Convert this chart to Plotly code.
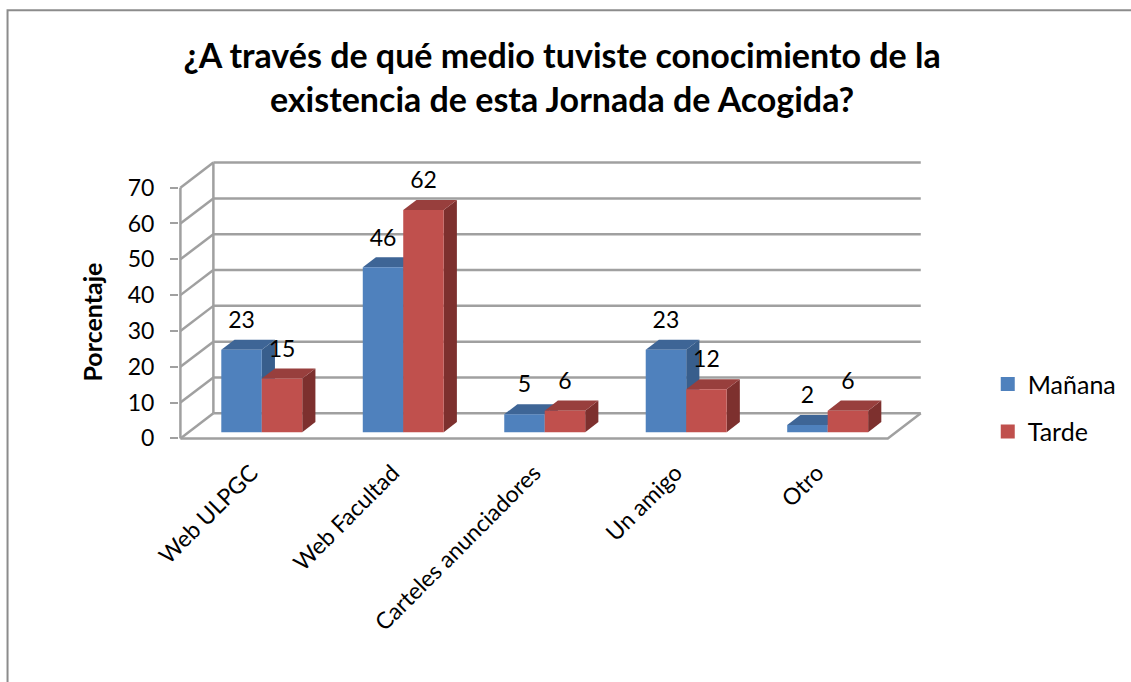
import plotly.graph_objects as go

# ---------------- data ----------------
categories = ["Web ULPGC", "Web Facultad", "Carteles anunciadores", "Un amigo", "Otro"]
manana = [23, 46, 5, 23, 2]
tarde = [15, 62, 6, 12, 6]
series_names = ["Mañana", "Tarde"]
y_ticks = [0, 10, 20, 30, 40, 50, 60, 70]

title_text = "¿A través de qué medio tuviste conocimiento de la<br>existencia de esta Jornada de Acogida?"
y_title = "Porcentaje"

# ---------------- styling / geometry ----------------
W_PX, H_PX = 1131, 682
FONT = "Lato"
X_RANGE = [-0.01, 5.27]
Y_RANGE = [-1, 78]
M_L, M_R, M_T, M_B = 178.6, 204.8, 159.4, 240.4
PLOT_W = W_PX - M_L - M_R
PLOT_H = H_PX - M_T - M_B

DX = 0.233   # depth offset (category units)
DY = 7.0     # depth offset (value units)
F0 = 0.25    # front of bars as fraction of depth
FD = 0.40    # bar depth as fraction of depth
BAR_W = 0.286
PAIR_CENTER = 0.575
LABEL_GAP = 7.7

front_cols = ["#4F81BD", "#C0504D"]
top_cols = ["#3E6596", "#983F3D"]
side_cols = ["#385E8C", "#7D302E"]
grid_col = "#A0A0A0"


def px_to_paper_x(px):
    return (px - M_L) / PLOT_W


def px_to_paper_y(py):
    return (H_PX - M_B - py) / PLOT_H


fig = go.Figure()

# ---------------- walls / gridlines ----------------
n = len(categories)
gx, gy = [], []
top_tick = y_ticks[-1]
for v in y_ticks:
    gx += [DX, n + DX, None, 0, DX, None]
    gy += [v + DY, v + DY, None, v, v + DY, None]
# back wall left edge
gx += [DX, DX, None]
gy += [DY, top_tick + DY, None]
# floor front and right edge
gx += [0, n, n + DX, None]
gy += [0, 0, DY, None]
# front vertical axis
gx += [0, 0]
gy += [0, top_tick]
fig.add_trace(go.Scatter(x=gx, y=gy, mode="lines",
                         line=dict(color=grid_col, width=2.5),
                         hoverinfo="skip", showlegend=False))

# ---------------- 3D bars ----------------
base = F0 * DY
ddx, ddy = FD * DX, FD * DY
lab_x, lab_y, lab_t = [], [], []
all_series = [manana, tarde]
for i in range(n):
    for s, vals in enumerate(all_series):
        v = vals[i]
        xl = i + PAIR_CENTER - BAR_W + s * BAR_W
        xr = xl + BAR_W
        top = base + v
        # side face
        fig.add_trace(go.Scatter(
            x=[xr, xr + ddx, xr + ddx, xr, xr],
            y=[base, base + ddy, top + ddy, top, base],
            mode="lines", fill="toself", fillcolor=side_cols[s],
            line=dict(width=0, color=side_cols[s]),
            hoverinfo="skip", showlegend=False))
        # top face
        fig.add_trace(go.Scatter(
            x=[xl, xr, xr + ddx, xl + ddx, xl],
            y=[top, top, top + ddy, top + ddy, top],
            mode="lines", fill="toself", fillcolor=top_cols[s],
            line=dict(width=0, color=top_cols[s]),
            hoverinfo="skip", showlegend=False))
        # front face
        fig.add_trace(go.Scatter(
            x=[xl, xr, xr, xl, xl],
            y=[base, base, top, top, base],
            mode="lines", fill="toself", fillcolor=front_cols[s],
            line=dict(width=0, color=front_cols[s]),
            name=series_names[s], hoverinfo="x+y", showlegend=False))
        lab_x.append(xl + BAR_W / 2)
        lab_y.append(top + LABEL_GAP)
        lab_t.append(str(v))

fig.add_trace(go.Scatter(x=lab_x, y=lab_y, text=lab_t, mode="text",
                         textposition="middle center",
                         textfont=dict(family=FONT, size=23, color="#000000"),
                         hoverinfo="skip", showlegend=False, cliponaxis=False))

# legend entries
for s in range(2):
    fig.add_trace(go.Scatter(x=[None], y=[None], mode="markers",
                             marker=dict(symbol="square", size=14, color=front_cols[s]),
                             name=series_names[s], legendgroup=series_names[s]))

# ---------------- layout ----------------
fig.update_layout(
    width=W_PX, height=H_PX,
    margin=dict(l=M_L, r=M_R, t=M_T, b=M_B, autoexpand=False),
    paper_bgcolor="white", plot_bgcolor="white",
    font=dict(family=FONT, size=20, color="#000000"),
    title=dict(text="<b>" + title_text + "</b>", x=px_to_paper_x(562), xref="paper",
               xanchor="center", y=1 - 68 / H_PX, yref="container", yanchor="top",
               font=dict(family=FONT, size=34, color="#000000")),
    showlegend=True,
    legend=dict(x=px_to_paper_x(988), y=px_to_paper_y(361), xanchor="left", yanchor="top",
                font=dict(family=FONT, size=25, color="#000000"),
                tracegroupgap=12, bgcolor="rgba(0,0,0,0)"),
    xaxis=dict(range=X_RANGE, showgrid=False, zeroline=False, showline=False,
               tickmode="array", tickvals=[i + 0.5 for i in range(n)], ticktext=categories,
               tickangle=-45, ticks="", ticklabelstandoff=12,
               tickfont=dict(family=FONT, size=23, color="#000000"), fixedrange=True),
    yaxis=dict(range=Y_RANGE, showgrid=False, zeroline=False, showline=False,
               tickmode="array", tickvals=y_ticks, ticks="outside", ticklen=8, tickwidth=2,
               tickcolor=grid_col, ticklabelstandoff=11,
               tickfont=dict(family=FONT, size=23, color="#000000"), fixedrange=True),
    annotations=[dict(text="<b>" + y_title + "</b>", x=px_to_paper_x(92), y=px_to_paper_y(322),
                      xref="paper", yref="paper", xanchor="center", yanchor="middle",
                      textangle=-90, showarrow=False,
                      font=dict(family=FONT, size=25, color="#000000"))],
    shapes=[dict(type="rect", xref="paper", yref="paper",
                 x0=px_to_paper_x(7), x1=px_to_paper_x(1145),
                 y0=px_to_paper_y(700), y1=px_to_paper_y(11),
                 line=dict(color="#8C8C8C", width=2), fillcolor="rgba(0,0,0,0)",
                 layer="below")],
)

fig.write_html("out.html", config={"displayModeBar": False},
               post_script="document.body.style.margin='0px';")
